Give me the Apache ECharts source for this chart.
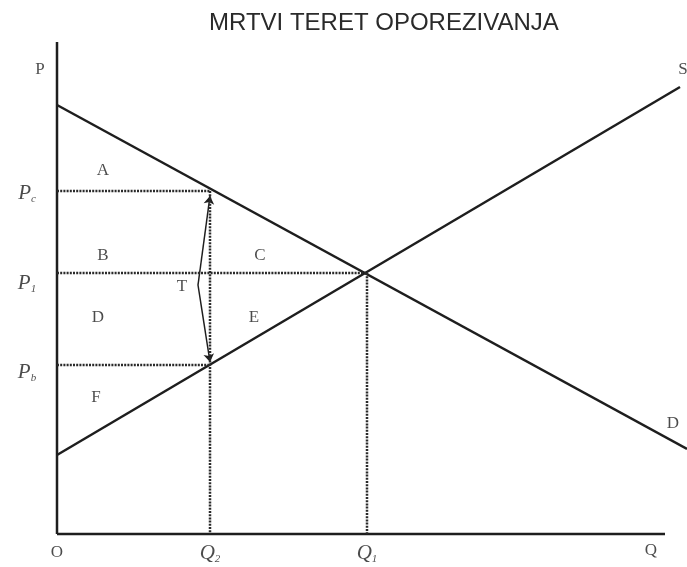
<!DOCTYPE html>
<html>
<head>
<meta charset="utf-8">
<script src="https://cdn.jsdelivr.net/npm/echarts@6/dist/echarts.min.js"></script>
<style>
  html, body { margin: 0; padding: 0; background: #fff; }
  #chart { width: 687px; height: 567px; }
</style>
</head>
<body>
<div id="chart"></div>
<script>
  // values (abstract units, origin at O)
  const chartTitle = 'MRTVI TERET OPOREZIVANJA'
  const Q1 = 31.0, Q2 = 15.3
  const P1 = 26.1, Pc = 34.3, Pb = 16.9
  const demandX = [0, 63], demandY = [42.9, 8.5]
  const supplyX = [0, 62.3], supplyY = [7.9, 44.7]
  const axisEnd = [60.8, 49.2]
  const taxArrowX = [15.3, 14.1, 15.3]
  const taxArrowY = [33.8, 24.9, 17.2]

  const labelText = ['P', 'P_c', 'P_1', 'P_b', 'A', 'B', 'C', 'T', 'D', 'E', 'F', 'O', 'Q_2', 'Q_1', 'Q', 'S', 'D']
  const labelX = [-1.7, -3.0, -3.0, -3.0, 4.6, 4.6, 20.3, 12.5, 4.1, 19.7, 3.9, 0, 15.3, 31.0, 59.4, 62.6, 61.6]
  const labelY = [46.4, 34.1, 25.1, 16.2, 36.3, 27.8, 27.8, 24.7, 21.6, 21.6, 13.6, -1.9, -1.9, -1.9, -1.7, 46.4, 11.0]

  const ink = '#1e1e1e'
  const serif = '"Liberation Serif", "DejaVu Serif", serif'

  function pairs(xs, ys) {
    return xs.map((x, i) => [x, ys[i]])
  }

  function fmtLabel(t) {
    if (t.indexOf('_') < 0) return '{n|' + t + '}'
    let parts = t.split('_')
    return '{i|' + parts[0] + '}{s|' + parts[1] + '}'
  }

  function solid(data, w) {
    return {
      type: 'line', data: data, symbol: 'none', silent: true,
      lineStyle: { color: ink, width: w }
    }
  }
  function dotted(data) {
    return {
      type: 'line', data: data, symbol: 'none', silent: true,
      lineStyle: { color: '#2a2a2a', width: 2.5, type: [2, 1.2] }
    }
  }

  let chart = echarts.init(document.getElementById('chart'))
  chart.setOption({
    animation: false,
    backgroundColor: '#fff',
    title: {
      text: chartTitle,
      left: 204, top: 6,
      textStyle: { fontFamily: '"Liberation Sans", Arial, sans-serif', fontSize: 24, fontWeight: 'normal', color: '#2a2a2a' }
    },
    grid: { left: 0, right: 0, top: 0, bottom: 0 },
    xAxis: { type: 'value', min: -5.7, max: 63, show: false },
    yAxis: { type: 'value', min: -3.3, max: 53.4, show: false },
    series: [
      // axes
      solid([[0, 0], [axisEnd[0], 0]], 2.5),
      solid([[0, 0], [0, axisEnd[1]]], 2.5),
      // demand and supply
      solid(pairs(demandX, demandY), 2.5),
      solid(pairs(supplyX, supplyY), 2.5),
      // guide lines
      dotted([[0, Pc], [Q2, Pc]]),
      dotted([[Q2, Pc], [Q2, 0]]),
      dotted([[0, P1], [Q1, P1]]),
      dotted([[Q1, P1], [Q1, 0]]),
      dotted([[0, Pb], [Q2, Pb]]),
      // tax wedge arrow T
      {
        type: 'lines',
        coordinateSystem: 'cartesian2d',
        silent: true,
        symbol: ['none', 'arrow'],
        symbolSize: 8,
        lineStyle: { color: ink, width: 1.5, opacity: 1 },
        data: [
          { coords: [[taxArrowX[1], taxArrowY[1]], [taxArrowX[0], taxArrowY[0]]] },
          { coords: [[taxArrowX[1], taxArrowY[1]], [taxArrowX[2], taxArrowY[2]]] }
        ]
      },
      // text labels
      {
        type: 'scatter',
        symbolSize: 0,
        clip: false,
        silent: true,
        data: labelText.map((t, i) => ({ value: [labelX[i], labelY[i]], name: t })),
        label: {
          show: true,
          position: 'inside',
          formatter: p => fmtLabel(p.name),
          rich: {
            n: { fontFamily: serif, fontSize: 17, color: ink },
            i: { fontFamily: serif, fontSize: 21, fontStyle: 'italic', color: ink },
            s: { fontFamily: serif, fontSize: 11, fontStyle: 'italic', color: ink, padding: [12, 0, 0, 0] }
          }
        }
      }
    ]
  })
</script>
</body>
</html>
